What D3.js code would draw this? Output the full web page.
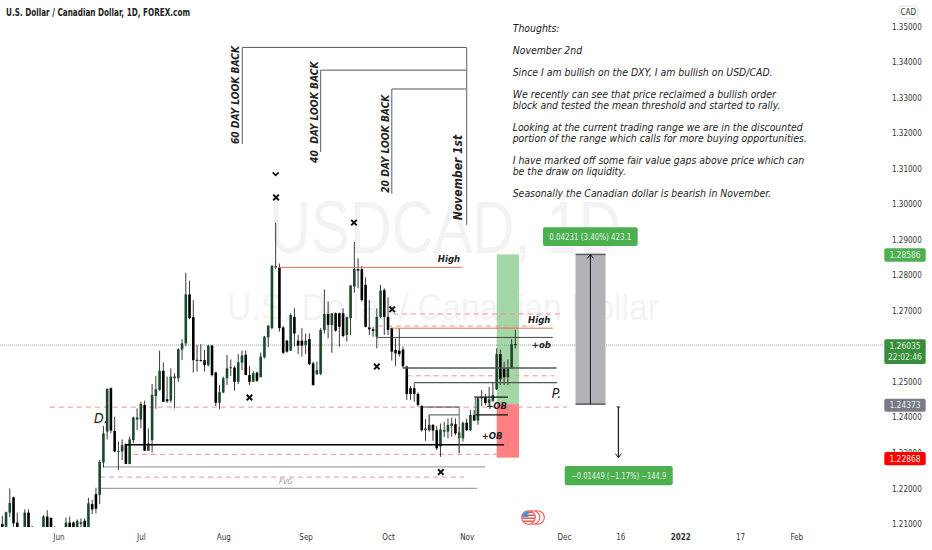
<!DOCTYPE html>
<html>
<head>
<meta charset="utf-8">
<title>USDCAD</title>
<script src="https://cdnjs.cloudflare.com/ajax/libs/d3/7.8.5/d3.min.js"></script>
<style>
  html, body { margin: 0; padding: 0; background: #fff; }
  svg { display: block; }
  text { font-family: "DejaVu Sans Condensed", "DejaVu Sans", sans-serif; }
  .axis path, .axis line { display: none; }
  .axis text { fill: #333; font-size: 8px; font-family: "DejaVu Sans Condensed", "DejaVu Sans", sans-serif; }
  .note { font-size: 10.4px; font-style: italic; fill: #222; }
  .tag { font-style: italic; font-weight: bold; fill: #222; }
</style>
</head>
<body>
<svg id="chart" width="932" height="550"></svg>
<script>
// daily candles, one entry per trading bar
const opens = [
  1.2100,1.2092,1.2132,1.2175,1.2104,1.2085,1.2085,1.2132,1.2092,1.2085,
  1.2080,1.2083,1.2121,1.2117,1.2092,1.2086,1.2078,1.2084,1.2104,1.2104,
  1.2085,1.2100,1.2109,1.2091,1.2156,1.2184,1.2182,1.2273,1.2360,1.2482,
  1.2362,1.2304,1.2304,1.2325,1.2269,1.2336,1.2394,1.2394,1.2435,1.2306,
  1.2336,1.2460,1.2477,1.2531,1.2451,1.2447,1.2510,1.2510,1.2591,1.2608,
  1.2746,1.2682,1.2562,1.2561,1.2561,1.2547,1.2602,1.2526,1.2441,1.2470,
  1.2510,1.2539,1.2540,1.2500,1.2554,1.2576,1.2519,1.2500,1.2526,1.2513,
  1.2569,1.2625,1.2651,1.2822,1.2822,1.2653,1.2616,1.2588,1.2683,1.2616,
  1.2616,1.2604,1.2620,1.2552,1.2522,1.2522,1.2646,1.2691,1.2660,1.2693,
  1.2693,1.2693,1.2632,1.2679,1.2768,1.2817,1.2817,1.2773,1.2653,1.2648,
  1.2627,1.2683,1.2758,1.2683,1.2651,1.2590,1.2588,1.2591,1.2543,1.2482,
  1.2482,1.2466,1.2432,1.2364,1.2379,1.2379,1.2364,1.2318,1.2360,1.2360,
  1.2376,1.2381,1.2341,1.2341,1.2385,1.2364,1.2407,1.2391,1.2454,1.2456,
  1.2440,1.2446,1.2479,1.2578,1.2538,1.2513,1.2538,1.2606];
const highs = [
  1.2123,1.2135,1.2200,1.2177,1.2132,1.2088,1.2141,1.2141,1.2094,1.2088,
  1.2085,1.2125,1.2139,1.2119,1.2093,1.2088,1.2085,1.2118,1.2121,1.2107,
  1.2113,1.2116,1.2116,1.2174,1.2168,1.2202,1.2280,1.2376,1.2482,1.2484,
  1.2402,1.2332,1.2338,1.2327,1.2346,1.2402,1.2425,1.2444,1.2447,1.2369,
  1.2494,1.2516,1.2588,1.2555,1.2515,1.2538,1.2524,1.2594,1.2620,1.2807,
  1.2785,1.2730,1.2604,1.2606,1.2590,1.2604,1.2604,1.2529,1.2491,1.2515,
  1.2576,1.2563,1.2545,1.2578,1.2588,1.2588,1.2545,1.2531,1.2529,1.2582,
  1.2629,1.2660,1.2829,1.2948,1.2833,1.2657,1.2618,1.2693,1.2707,1.2632,
  1.2651,1.2636,1.2636,1.2557,1.2557,1.2651,1.2760,1.2727,1.2693,1.2695,
  1.2695,1.2707,1.2684,1.2773,1.2894,1.2848,1.2826,1.2794,1.2730,1.2655,
  1.2707,1.2773,1.2763,1.2738,1.2653,1.2622,1.2651,1.2599,1.2545,1.2488,
  1.2496,1.2470,1.2435,1.2395,1.2407,1.2381,1.2376,1.2383,1.2388,1.2397,
  1.2399,1.2397,1.2374,1.2388,1.2397,1.2421,1.2421,1.2456,1.2477,1.2466,
  1.2486,1.2500,1.2594,1.2591,1.2557,1.2563,1.2620,1.2646];
const lows = [
  1.2088,1.2088,1.2119,1.2092,1.2085,1.2078,1.2082,1.2082,1.2082,1.2075,
  1.2072,1.2080,1.2080,1.2080,1.2080,1.2074,1.2070,1.2080,1.2080,1.2080,
  1.2082,1.2085,1.2082,1.2088,1.2128,1.2130,1.2156,1.2259,1.2338,1.2355,
  1.2302,1.2252,1.2280,1.2268,1.2268,1.2327,1.2364,1.2369,1.2306,1.2306,
  1.2301,1.2424,1.2475,1.2444,1.2441,1.2441,1.2425,1.2500,1.2561,1.2601,
  1.2676,1.2526,1.2529,1.2557,1.2529,1.2543,1.2515,1.2432,1.2423,1.2468,
  1.2491,1.2516,1.2475,1.2494,1.2533,1.2519,1.2491,1.2500,1.2500,1.2513,
  1.2566,1.2597,1.2648,1.2817,1.2641,1.2578,1.2582,1.2587,1.2599,1.2578,
  1.2571,1.2578,1.2547,1.2489,1.2519,1.2519,1.2636,1.2622,1.2582,1.2641,
  1.2599,1.2625,1.2613,1.2632,1.2751,1.2763,1.2726,1.2653,1.2632,1.2627,
  1.2594,1.2679,1.2632,1.2632,1.2560,1.2545,1.2571,1.2538,1.2449,1.2449,
  1.2444,1.2430,1.2360,1.2334,1.2363,1.2334,1.2308,1.2289,1.2344,1.2341,
  1.2346,1.2350,1.2299,1.2332,1.2362,1.2362,1.2390,1.2379,1.2432,1.2435,
  1.2430,1.2444,1.2477,1.2491,1.2491,1.2491,1.2538,1.2594];
const closes = [
  1.2092,1.2133,1.2159,1.2102,1.2088,1.2082,1.2132,1.2085,1.2085,1.2080,
  1.2083,1.2121,1.2085,1.2085,1.2086,1.2078,1.2083,1.2104,1.2085,1.2085,
  1.2109,1.2105,1.2085,1.2158,1.2141,1.2143,1.2275,1.2355,1.2480,1.2363,
  1.2304,1.2305,1.2322,1.2269,1.2338,1.2400,1.2400,1.2438,1.2306,1.2327,
  1.2463,1.2479,1.2531,1.2444,1.2445,1.2515,1.2515,1.2592,1.2608,1.2746,
  1.2679,1.2561,1.2560,1.2559,1.2547,1.2602,1.2519,1.2441,1.2471,1.2510,
  1.2538,1.2541,1.2500,1.2555,1.2574,1.2519,1.2500,1.2524,1.2503,1.2571,
  1.2627,1.2658,1.2826,1.2826,1.2651,1.2582,1.2585,1.2688,1.2636,1.2602,
  1.2602,1.2616,1.2550,1.2491,1.2533,1.2646,1.2691,1.2660,1.2693,1.2644,
  1.2655,1.2629,1.2682,1.2771,1.2817,1.2813,1.2730,1.2655,1.2648,1.2643,
  1.2683,1.2757,1.2683,1.2646,1.2585,1.2580,1.2578,1.2544,1.2466,1.2466,
  1.2466,1.2435,1.2364,1.2369,1.2364,1.2363,1.2313,1.2366,1.2364,1.2379,
  1.2383,1.2355,1.2358,1.2385,1.2364,1.2407,1.2391,1.2454,1.2456,1.2440,
  1.2451,1.2463,1.2578,1.2507,1.2513,1.2538,1.2606,1.26035];

const priceTicks = [1.21,1.22,1.23,1.24,1.25,1.26,1.27,1.28,1.29,1.30,1.31,1.32,1.33,1.34,1.35];
const timeBars = [15,37,59,81,103,124,150,165,181,197,212];
const timeLabels = ["Jun","Jul","Aug","Sep","Oct","Nov","Dec","16","2022","17","Feb"];

const lastPrice = 1.26035, countdown = "22:02:46";
const targetPrice = 1.28586, entryPrice = 1.24373, stopPrice = 1.22868;

// drawn levels: first bar, last bar, price
const redLevels = [[73.6,122.9,1.2822],[104,147,1.2651]];
const thinLevels = [[100,147,1.2625],[112,122,1.2429],[114,122,1.2407]];
const darkLevels = [[107,148,1.2539],[110,148.1,1.2498]];
const obLevels = [[126,135,1.2457],[126.3,135,1.2407]];
const thickLevels = [[33.3,134,1.2323]];
const greyLevels = [[26.9,128.9,1.2261],[26.1,126.8,1.2200]];
const dashedLevels = [[12.7,150.8,1.2429],[104.3,149.1,1.2691],[100.3,141.7,1.2657],[108,147.3,1.2517],[34.9,132.1,1.2296],[26.1,123.3,1.2232]];
// vertical marks: bar, top price, bottom price
const boxEdges = [[122,1.2429,1.2300],[114,1.2407,1.2359],[126.3,1.2457,1.2392]];
const lookBackBars = [64.1,85,104];
const lookBackTops = [1.3441,1.3377,1.3324];
const lookBackBottoms = [1.3169,1.3147,1.3029];
const lookBackLabels = ["60 DAY LOOK BACK","40\u00a0\u00a0DAY LOOK BACK","20 DAY LOOK BACK"];
const lookBackLabelBars = [63.2,84.3,103.3];
const lookBackLabelPrices = [1.3169,1.3116,1.3032];
const novemberBar = 124, novemberBottom = 1.2941;
const crossMarks = [[73.1,1.3019],[93.9,1.2948],[66,1.2456],[100,1.2543],[104.1,1.2704],[117.1,1.2246]];
const chevron = [73,1.3085];

const tagLabels = ["High","High","+ob","+OB","+OB","P.","D.","FVG"];
const tagBars = [116.3,140.4,141.4,129.2,128,146.7,24.5,73.9];
const tagPrices = [1.2837,1.2665,1.2596,1.2423,1.2338,1.2455,1.2384,1.2213];

const noteLines = ["Thoughts:","","November 2nd","","Since I am bullish on the DXY, I am bullish on USD/CAD.","",
  "We recently can see that price reclaimed a bullish order","block and tested the mean threshold and started to rally.","",
  "Looking at the current trading range we are in the discounted","portion of the range which calls for more buying opportunities.","",
  "I have marked off some fair value gaps above price which can","be the draw on liquidity.","",
  "Seasonally the Canadian dollar is bearish in November."];

const svg = d3.select("#chart");

// Scales
const x = d3.scaleLinear().domain([0, 212]).range([2.3, 796.24]);
const y = d3.scaleLinear().domain([1.21, 1.35]).range([524, 26.44]);

svg.append("defs").append("clipPath").attr("id", "pane")
  .append("rect").attr("width", 884).attr("height", 527);
const flagClip = svg.select("defs").append("clipPath").attr("id", "flag");
flagClip.append("circle").attr("cx", 528.5).attr("cy", 517.5).attr("r", 6.5);

// Watermark
svg.append("text").attr("x", 445).attr("y", 253).attr("text-anchor", "middle")
  .attr("textLength", 352).attr("lengthAdjust", "spacingAndGlyphs")
  .style("font-family", "'Liberation Sans'").style("font-size", "74px").attr("fill", "#f3f3f5")
  .text("USDCAD, 1D");
svg.append("text").attr("x", 443).attr("y", 320).attr("text-anchor", "middle")
  .attr("textLength", 432).attr("lengthAdjust", "spacingAndGlyphs")
  .style("font-family", "'Liberation Sans'").style("font-size", "37px").attr("fill", "#f3f3f5")
  .text("U.S. Dollar / Canadian Dollar");

const pane = svg.append("g").attr("clip-path", "url(#pane)");

// Position zones behind the candles
pane.append("rect").attr("x", 496.7).attr("width", 22.3)
  .attr("y", y(targetPrice)).attr("height", y(entryPrice) - y(targetPrice)).attr("fill", "#a5d6a7");
pane.append("rect").attr("x", 496.7).attr("width", 22.3)
  .attr("y", y(entryPrice)).attr("height", y(stopPrice) - y(entryPrice)).attr("fill", "#ff8080");

// Last price line
pane.append("line").attr("x1", 0).attr("x2", 884).attr("y1", y(lastPrice)).attr("y2", y(lastPrice))
  .attr("stroke", "#8fa08f").attr("stroke-dasharray", "1 1");

// Levels
function drawLevels(rows, color, width, dash) {
  pane.append("g").selectAll("line").data(rows).enter().append("line")
    .attr("x1", d => x(d[0])).attr("x2", d => x(d[1]))
    .attr("y1", d => y(d[2])).attr("y2", d => y(d[2]))
    .attr("stroke", color).attr("stroke-width", width)
    .attr("stroke-dasharray", dash);
}
drawLevels(dashedLevels, "#ee8f9c", 1, "5 4");
drawLevels(greyLevels, "#a3a3a3", 1.2, null);

// Candles
const bars = d3.range(opens.length);
const candles = pane.append("g").selectAll("g").data(bars).enter().append("g");
candles.append("line")
  .attr("x1", i => x(i)).attr("x2", i => x(i))
  .attr("y1", i => y(highs[i])).attr("y2", i => y(lows[i]))
  .attr("stroke", "#3a3a3a").attr("stroke-width", 1);
candles.append("rect")
  .attr("x", i => x(i) - 1.3).attr("width", 2.6)
  .attr("y", i => y(Math.max(opens[i], closes[i])))
  .attr("height", i => Math.max(0.9, Math.abs(y(opens[i]) - y(closes[i]))))
  .attr("fill", i => closes[i] >= opens[i] ? "#1b4a28" : "#000");

drawLevels(redLevels, "#e4705f", 1, null);
drawLevels(thinLevels, "#333", 0.9, null);
drawLevels(darkLevels, "#555", 1.3, null);
drawLevels(obLevels, "#111", 1.3, null);
drawLevels(thickLevels, "#000", 1.6, null);

pane.append("g").selectAll("line").data(boxEdges).enter().append("line")
  .attr("x1", d => x(d[0])).attr("x2", d => x(d[0]))
  .attr("y1", d => y(d[1])).attr("y2", d => y(d[2]))
  .attr("stroke", "#666");

// Look back brackets
const lookBack = pane.append("g");
lookBackBars.forEach((b, i) => {
  lookBack.append("line").attr("x1", x(b)).attr("x2", x(b))
    .attr("y1", y(lookBackTops[i])).attr("y2", y(lookBackBottoms[i]))
    .attr("stroke", "#777").attr("stroke-width", 1.2);
  lookBack.append("line").attr("x1", x(b)).attr("x2", x(novemberBar))
    .attr("y1", y(lookBackTops[i])).attr("y2", y(lookBackTops[i]))
    .attr("stroke", "#444").attr("stroke-width", 0.9);
  lookBack.append("text").attr("class", "tag")
    .attr("transform", `translate(${x(lookBackLabelBars[i])},${y(lookBackLabelPrices[i])}) rotate(-90)`)
    .style("font-size", "10.2px").text(lookBackLabels[i]);
});
lookBack.append("line").attr("x1", x(novemberBar)).attr("x2", x(novemberBar))
  .attr("y1", y(lookBackTops[0])).attr("y2", y(novemberBottom))
  .attr("stroke", "#777").attr("stroke-width", 1.2);
lookBack.append("text").attr("class", "tag")
  .attr("transform", `translate(${x(122.7)},${y(1.2955)}) rotate(-90)`)
  .style("font-size", "12px").text("November 1st");

// Swing marks
pane.append("g").selectAll("path").data(crossMarks).enter().append("path")
  .attr("transform", d => `translate(${x(d[0])},${y(d[1])})`)
  .attr("d", d3.symbol().type(d3.symbolTimes).size(22))
  .attr("fill", "none").attr("stroke", "#111").attr("stroke-width", 2);
pane.append("path").attr("transform", `translate(${x(chevron[0])},${y(chevron[1])})`)
  .attr("d", "M-3,-1.5L0,1.5L3,-1.5").attr("fill", "none").attr("stroke", "#111").attr("stroke-width", 1.6);

// Text tags on the chart
const tagSize = t => (t === "P." || t === "D.") ? 14 : t === "FVG" ? 7.5 : 9.5;
pane.append("g").selectAll("text").data(tagLabels).enter().append("text")
  .attr("class", "tag")
  .attr("x", (d, i) => x(tagBars[i])).attr("y", (d, i) => y(tagPrices[i]))
  .style("font-size", d => tagSize(d) + "px")
  .style("font-weight", d => (d === "P." || d === "D." || d === "FVG") ? "normal" : "bold")
  .style("fill", d => d === "FVG" ? "#999" : "#222")
  .text(d => d);

// Notes
svg.append("g").selectAll("text").data(noteLines).enter().append("text")
  .attr("class", "note").attr("x", 512.7).attr("y", (d, i) => 31.7 + i * 11).text(d => d);

// Price range tool
const range = pane.append("g");
range.append("rect").attr("x", 575.5).attr("width", 30)
  .attr("y", y(targetPrice)).attr("height", y(entryPrice) - y(targetPrice)).attr("fill", "#b2b3b9");
[targetPrice, entryPrice].forEach(p => {
  range.append("line").attr("x1", 575.5).attr("x2", 605.5).attr("y1", y(p)).attr("y2", y(p))
    .attr("stroke", "#5c5c5c").attr("stroke-width", 1.5);
});
range.append("line").attr("x1", 590.4).attr("x2", 590.4).attr("y1", y(entryPrice)).attr("y2", y(targetPrice))
  .attr("stroke", "#111");
range.append("path").attr("d", `M587.4,${y(targetPrice) + 4}L590.4,${y(targetPrice)}L593.4,${y(targetPrice) + 4}`)
  .attr("fill", "none").attr("stroke", "#111");
range.append("line").attr("x1", 618.4).attr("x2", 618.4).attr("y1", 407).attr("y2", y(stopPrice))
  .attr("stroke", "#222").attr("stroke-width", 1.3);
range.append("path").attr("d", `M615.4,${y(stopPrice) - 4}L618.4,${y(stopPrice)}L621.4,${y(stopPrice) - 4}`)
  .attr("fill", "none").attr("stroke", "#222");
range.append("line").attr("x1", 616.6).attr("x2", 620.2).attr("y1", 407).attr("y2", 407).attr("stroke", "#222");

function valueBox(parent, x0, y0, w, h, fill, lines, fit) {
  parent.append("rect").attr("x", x0).attr("y", y0).attr("width", w).attr("height", h)
    .attr("rx", 2).attr("fill", fill);
  lines.forEach((t, i) => {
    const label = parent.append("text").attr("x", x0 + w / 2).attr("y", y0 + (lines.length > 1 ? 10 + i * 11 : h / 2 + 3))
      .attr("text-anchor", "middle").attr("fill", "#e3f1e3").style("font-size", "8.4px").text(t);
    if (fit) label.attr("textLength", fit).attr("lengthAdjust", "spacingAndGlyphs");
  });
}
valueBox(svg, 543, 227.3, 94.7, 18.7, "#4caf50", ["0.04231 (3.40%) 423.1"], 82);
valueBox(svg, 564.7, 466, 108, 19.3, "#4caf50", ["\u22120.01449 (\u22121.17%) \u2212144.9"], 95);

// Axes
svg.append("g").attr("class", "axis").attr("transform", "translate(892,0)")
  .call(d3.axisRight(y).tickValues(priceTicks).tickFormat(d3.format(".5f")).tickSize(0).tickPadding(0));
svg.append("g").attr("class", "axis").attr("transform", "translate(0,529)")
  .call(d3.axisBottom(x).tickValues(timeBars).tickFormat((d, i) => timeLabels[i]).tickSize(0).tickPadding(5))
  .selectAll("text").style("font-weight", (d, i) => timeLabels[i] === "2022" ? "bold" : null);

// Price labels on the axis
valueBox(svg, 884.3, 248.3, 41.4, 13.4, "#4caf50", [d3.format(".5f")(targetPrice)]);
valueBox(svg, 884.3, 339.3, 41.4, 24.7, "#388e3c", [d3.format(".5f")(lastPrice), countdown]);
valueBox(svg, 884.3, 398.7, 41.4, 13, "#787b86", [d3.format(".5f")(entryPrice)]);
valueBox(svg, 884.3, 452, 41.4, 13.3, "#ff0000", [d3.format(".5f")(stopPrice)]);

// Currency button
svg.append("rect").attr("x", 899).attr("y", 6).attr("width", 18.7).attr("height", 12.4).attr("rx", 3)
  .attr("fill", "#fff").attr("stroke", "#e3e3e3");
svg.append("text").attr("x", 908.3).attr("y", 15.3).attr("text-anchor", "middle").attr("fill", "#333")
  .style("font-size", "8px").text("CAD");

// Title
svg.append("text").attr("x", 6).attr("y", 16).attr("fill", "#222")
  .attr("textLength", 184).attr("lengthAdjust", "spacingAndGlyphs")
  .style("font-size", "9.6px").style("font-weight", "bold").text("U.S. Dollar / Canadian Dollar, 1D, FOREX.com");

// Event flag
const flag = svg.append("g");
[537.5, 533, 528.5].forEach(cx => {
  flag.append("circle").attr("cx", cx).attr("cy", 517.5).attr("r", 6.8).attr("fill", "#fff").attr("stroke", "#e8564f").attr("stroke-width", 1.1);
});
const flagBody = flag.append("g").attr("clip-path", "url(#flag)");
d3.range(4).forEach(i => {
  flagBody.append("rect").attr("x", 522).attr("y", 511.5 + i * 3).attr("width", 13).attr("height", 1.5).attr("fill", "#e8564f");
});
flagBody.append("rect").attr("x", 522).attr("y", 511).attr("width", 6.5).attr("height", 6).attr("fill", "#4a90d9");
</script>
</body>
</html>
